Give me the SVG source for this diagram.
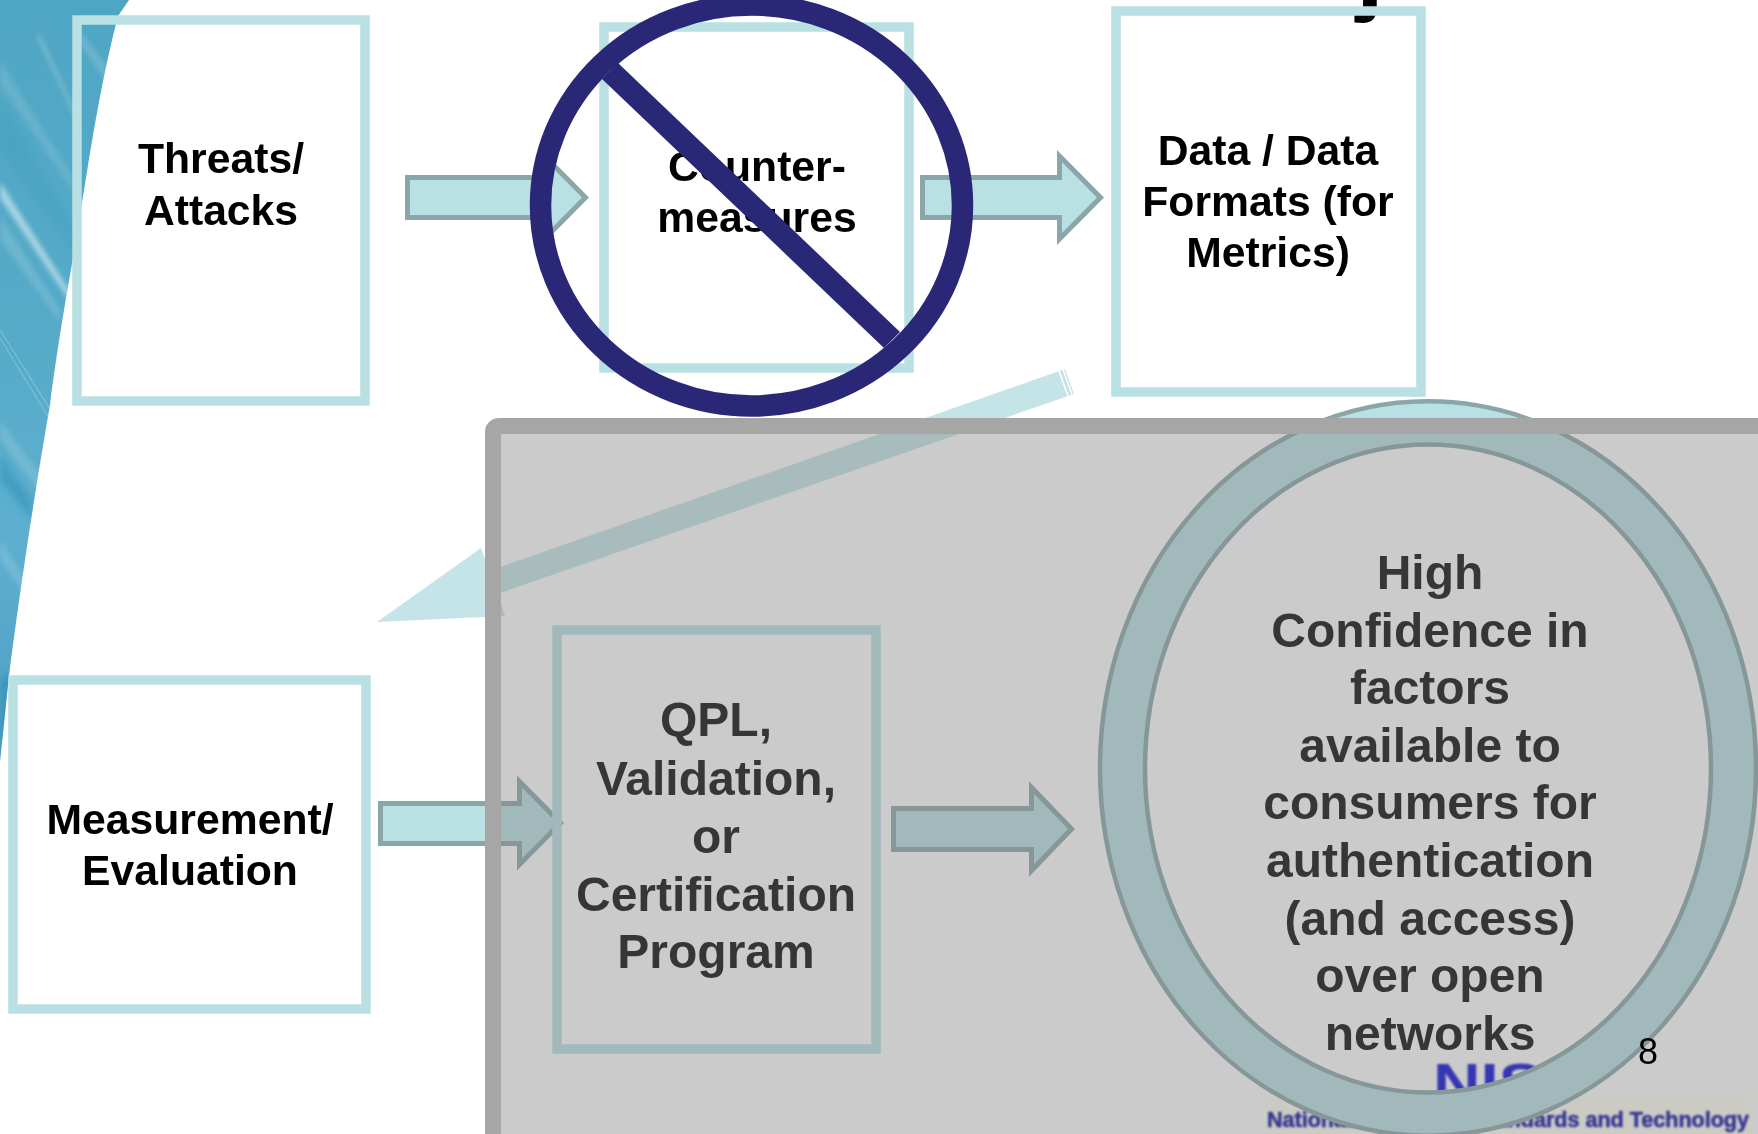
<svg xmlns="http://www.w3.org/2000/svg" width="1758" height="1134" viewBox="0 0 1758 1134">
<style>
.box{fill:none;stroke:#b9e0e3;stroke-width:9.5}
.arrow{fill:#b9e0e3;stroke:#8aa6a9;stroke-width:5}
.t{font-family:"Liberation Sans",Arial,sans-serif;font-weight:700;fill:#000;text-anchor:middle}
.s{font-size:42.7px}
.l{font-size:48px}
</style>
<defs>
<linearGradient id="sw" x1="0" y1="0" x2="0" y2="1">
<stop offset="0" stop-color="#4fa6c4"/><stop offset=".45" stop-color="#56abc9"/><stop offset=".7" stop-color="#5eafcf"/><stop offset="1" stop-color="#4a9fc2"/>
</linearGradient>
<clipPath id="swc"><path d="M129 0L118 16C96 100 85 190 73 258C62 320 55 365 50 405C35 490 20 590 9 675L0 762V0Z"/></clipPath>
<filter id="b1" x="-20%" y="-20%" width="140%" height="140%"><feGaussianBlur stdDeviation="1"/></filter>
<filter id="b2" x="-50%" y="-50%" width="200%" height="200%"><feGaussianBlur stdDeviation="2.5"/></filter>
<filter id="b3" x="-50%" y="-50%" width="200%" height="200%"><feGaussianBlur stdDeviation="3"/></filter>
</defs>
<rect width="1758" height="1134" fill="#fff"/>
<g id="background">
<g clip-path="url(#swc)">
<rect width="140" height="770" fill="url(#sw)"/>
<g fill="#fff" filter="url(#b2)">
<path d="M0 182L73 296L73 306L0 198Z" opacity=".5"/>
<path d="M0 215L60 310L60 322L0 240Z" opacity=".14"/>
<path d="M38 30L76 112L76 120L38 40Z" opacity=".22"/>
<path d="M0 60L72 175L72 190L0 85Z" opacity=".12"/>
<path d="M80 30L110 70L105 80L80 45Z" opacity=".15"/>
<path d="M0 420L45 480L42 495L0 440Z" opacity=".14"/>
<path d="M0 540L30 585L28 600L0 560Z" opacity=".14"/>
</g>
<path d="M0 330L57 420M0 338L54 426" stroke="#fff" stroke-width="1" opacity=".3" fill="none"/>
<path d="M0 455L32 500V520L0 480Z" fill="#3391b8" opacity=".55" filter="url(#b3)"/>
<path d="M0 100L75 230V255L0 150Z" fill="#3d99bb" opacity=".25" filter="url(#b3)"/>
<path d="M0 680L12 670V720L0 750Z" fill="#2f8fb5" opacity=".6" filter="url(#b3)"/>
</g>
</g>
<g id="logo">
<rect x="1262" y="1095" width="490" height="39" fill="#fffff0" opacity=".7" filter="url(#b3)"/>
<g filter="url(#b1)">
<text x="1433" y="1102" font-family="Liberation Sans,sans-serif" font-weight="700" font-size="56" fill="#0000d8" textLength="150" lengthAdjust="spacingAndGlyphs">NIST</text>
<text x="1267" y="1127" font-family="Liberation Sans,sans-serif" font-weight="700" font-size="22" fill="#0000a0" stroke="#0000a0" stroke-width=".6" textLength="482" lengthAdjust="spacingAndGlyphs">National Institute of Standards and Technology</text>
</g>
</g>
<g id="title"><text class="t" x="1370" y="2" font-size="100">j</text></g>
<g id="connectors">
<path class="arrow" d="M407.500 177.500H544.500V156L585.500 197.500L544.500 239V217.500H407.500Z"/>
<path class="arrow" d="M922.500 177.500H1059.500V156L1100.500 197.500L1059.500 239V217.500H922.500Z"/>
<path class="arrow" d="M380.500 803.500H519.500V781.500L560.500 823L519.500 864.500V843.500H380.500Z"/>
<path class="arrow" d="M893.500 808.500H1031.500V787.500L1071.500 829L1031.500 870.500V849.500H893.500Z"/>
<g id="big-arrow">
<path d="M1065 369L489 571L481 548L377 622L505 616L497.500 594L1074 394Z" fill="#c4e4e7"/>
<path d="M1059 371L1068 396M1063 369.500L1072 394.500" stroke="#fff" stroke-width="1.600" fill="none"/>
</g>
</g>
<g id="threats">
<rect class="box" x="77" y="20" width="288" height="381"/>
<text class="t s" x="221" y="173">Threats/</text>
<text class="t s" x="221" y="225">Attacks</text>
</g>
<g id="countermeasures">
<rect class="box" x="604" y="27" width="305" height="341"/>
<text class="t s" x="757" y="181">Counter-</text>
<text class="t s" x="757" y="232">measures</text>
</g>
<g id="data">
<rect class="box" x="1116" y="11" width="305" height="381"/>
<text class="t s" x="1268" y="165">Data / Data</text>
<text class="t s" x="1268" y="216">Formats (for</text>
<text class="t s" x="1268" y="267">Metrics)</text>
</g>
<g id="measurement">
<rect class="box" x="13" y="680" width="353" height="329"/>
<text class="t s" x="190" y="834">Measurement/</text>
<text class="t s" x="190" y="885">Evaluation</text>
</g>
<g id="qpl">
<rect class="box" x="557" y="630" width="319" height="419"/>
<text class="t l" x="716" y="736">QPL,</text>
<text class="t l" x="716" y="795">Validation,</text>
<text class="t l" x="716" y="853">or</text>
<text class="t l" x="716" y="911">Certification</text>
<text class="t l" x="716" y="968">Program</text>
</g>
<g id="confidence">
<path d="M1100 768.500a328 367 0 1 0 656 0a328 367 0 1 0-656 0ZM1145 768.500a283 324 0 1 1 566 0a283 324 0 1 1-566 0Z" fill="#b9e0e3" stroke="#8aa6a9" stroke-width="4.500" fill-rule="evenodd"/>
<text class="t l" x="1430" y="589">High</text>
<text class="t l" x="1430" y="647">Confidence in</text>
<text class="t l" x="1430" y="704">factors</text>
<text class="t l" x="1430" y="762">available to</text>
<text class="t l" x="1430" y="819">consumers for</text>
<text class="t l" x="1430" y="877">authentication</text>
<text class="t l" x="1430" y="935">(and access)</text>
<text class="t l" x="1430" y="992">over open</text>
<text class="t l" x="1430" y="1050">networks</text>
</g>
<g id="panel">
<rect x="493" y="426" width="1400" height="800" rx="6" fill="#828282" fill-opacity=".414" stroke="#a6a6a6" stroke-width="16"/>
</g>
<g id="prohibition">
<ellipse cx="751.500" cy="205.500" rx="211" ry="200.500" fill="none" stroke="#2a2876" stroke-width="21.500"/>
<path d="M602 79L618 63L900 332L884 348Z" fill="#2a2876"/>
</g>
<g id="page-number"><text x="1648" y="1064" font-family="Liberation Sans,sans-serif" font-size="36" fill="#000" text-anchor="middle">8</text></g>
</svg>
